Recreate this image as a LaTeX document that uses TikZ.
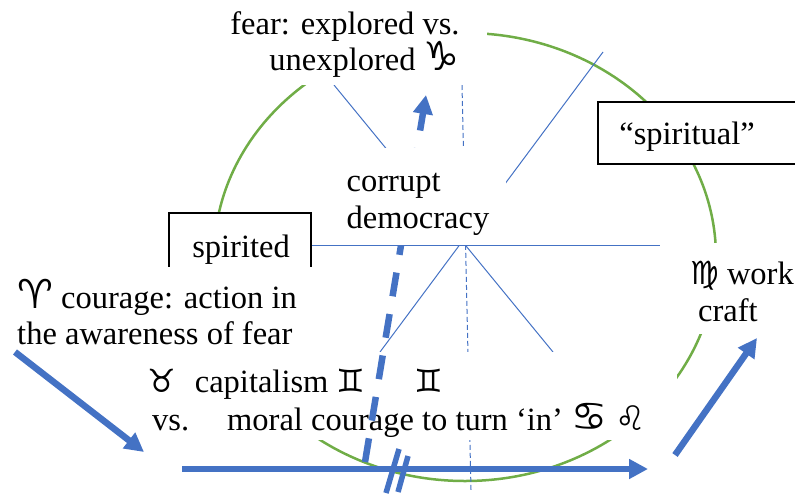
\documentclass[tikz,border=0pt]{standalone}
\usepackage{fontspec}
\setmainfont{Liberation Serif}
\newfontfamily\signfont{DejaVu Sans}
\usetikzlibrary{arrows.meta}
\definecolor{arcgreen}{HTML}{70AD47}
\definecolor{spokeblue}{HTML}{4472C4}
\lineskiplimit=-100pt
\tikzset{
	blank/.style={fill=white},
	word/.style={inner sep=0pt, align=left, anchor=base, font=\fontsize{32.5}{37}\selectfont},
	titled/.style={draw=black, line width=2pt, fill=white},
	spoke/.style={spokeblue, line width=1pt},
	thick arrow/.style={spokeblue, line width=6.5pt, -{Triangle[length=19pt,width=19pt]}},
	slash/.style={spokeblue, line width=5.5pt},
}
\newcommand{\sign}[2][40]{{\signfont\fontsize{#1}{37}\selectfont #2}}
\begin{document}
\begin{tikzpicture}[x=1pt, y=-1pt]
	\useasboundingbox (0,0) rectangle (795,493);
	% wheel and spokes
	\draw[arcgreen, line width=2.5pt] (465,257) ellipse [x radius=251, y radius=224];
	\coordinate (ul) at (334,85);
	\coordinate (lr) at (553,352);
	\coordinate (ur) at (603,52);
	\coordinate (ll) at (380,352);
	\coordinate (up) at (462,85);
	\coordinate (down) at (471,490);
	\coordinate (east) at (660,245);
	\draw[spoke] (ul) -- (lr);
	\draw[spoke] (ur) -- (ll);
	\draw[spoke, dash pattern=on 5pt off 3pt] (up) -- (down);
	\fill[blank] (205,0) rectangle (487,85);
	\fill[blank] (680,243) rectangle (795,334);
	\node[titled, anchor=north west, minimum width=220pt, minimum height=62pt] (spiritual) at (597,101) {};
	\node[word] (spiritualtext) at (687,144) {“spiritual”};
	\node[titled, minimum width=142pt, minimum height=68pt] (spirited) at (240,247) {};
	\node[word] at (241,257) (spiritedtext) {spirited};
	\draw[spoke] (spirited.east |- east) -- (east);
	\fill[blank] (0,267) rectangle (314,352);
	\fill[blank] (107,352) rectangle (677,440);
	% texts
	\node[word, align=right] (fear) at (345,70) {fear: explored vs.\\[-1pt]unexplored \sign{♑}};
	\node[word] (courage) at (157,344) {\sign{♈} courage: action in\\[-1pt]the awareness of fear};
	\node[word, anchor=base west] (capitalism) at (147,430) {\sign[32]{♉}\hspace{19pt}capitalism \sign[32]{♊}\hspace{49pt}\sign[32]{♊}\\[1pt]\hspace{5pt}vs.\hspace{38pt}moral courage to turn ‘in’ \sign{♋} \sign[34]{♌}};
	\node[word, anchor=base west] (work) at (690,321) {\sign[32]{♍} work\\\hspace{8pt}craft};
	% arrows
	\coordinate (a1) at (15,352);
	\coordinate (a2) at (144,452);
	\coordinate (b1) at (182,469);
	\coordinate (b2) at (648,469);
	\coordinate (c1) at (675,455);
	\coordinate (c2) at (757,338);
	\coordinate (d1) at (365,462);
	\coordinate (d2) at (426,95);
	\draw[thick arrow] (a1) -- (a2);
	\draw[thick arrow] (b1) -- (b2);
	\draw[thick arrow] (c1) -- (c2);
	\draw[thick arrow, dash pattern=on 24pt off 18pt] (d1) -- (d2);
	% ticks
	\coordinate (t1) at (386,493);
	\coordinate (t2) at (399,449);
	\coordinate (t3) at (398,492);
	\coordinate (t4) at (408,456);
	\draw[slash] (t1) -- (t2);
	\draw[slash] (t3) -- (t4);
	% covers the dashed arrow
	\fill[blank] (335,148) rectangle (506,244.5);
	\node[word] (democracy) at (418,228) {corrupt\\democracy};
\end{tikzpicture}
\end{document}
